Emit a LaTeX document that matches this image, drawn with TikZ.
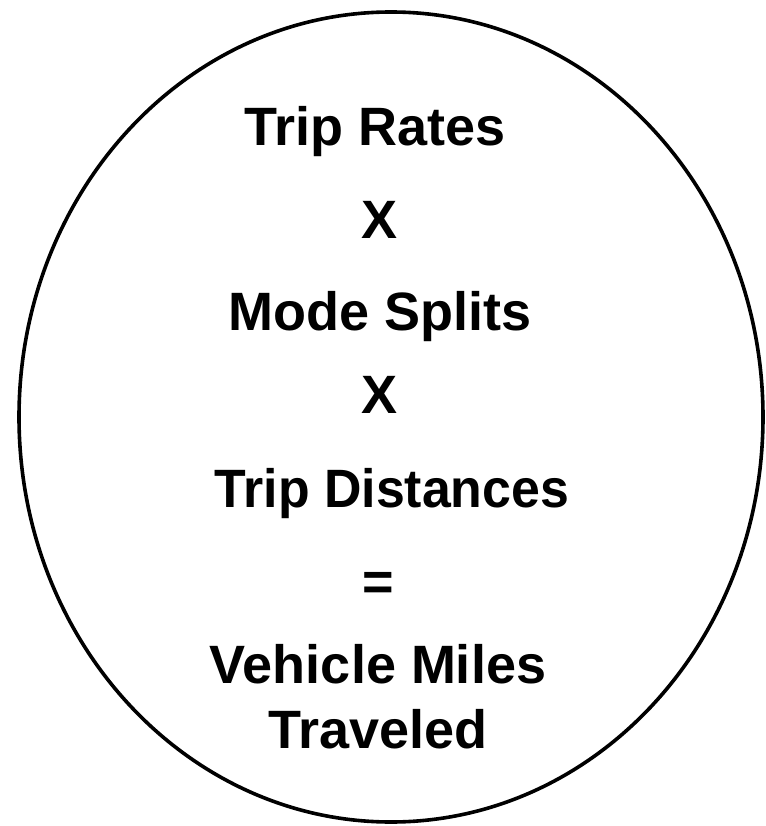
\documentclass[tikz,border=0pt]{standalone}
\usepackage{fontspec}
\setmainfont{Liberation Sans}
\usepackage{tikz}
\usetikzlibrary{positioning}
\definecolor{ink}{HTML}{000000}

\begin{document}
\begin{tikzpicture}[x=1pt, y=-1pt,
    term/.style={font=\fontsize{54}{65}\selectfont\bfseries, text=ink, anchor=base, inner sep=0pt}]
  \useasboundingbox (0,0) rectangle (765,826);
  \draw[ink, line width=3.6pt] (391,417) ellipse [x radius=372, y radius=405];
  \node[term] (rates) at (375,146) {Trip Rates};
  \node[term] (times1) at (380,238) {X};
  \node[term] (modes) at (380,330) {Mode Splits};
  \node[term] (times2) at (380,413) {X};
  \node[term, xscale=0.96] (dist) at (392,507) {Trip Distances};
  \node[term] (equals) at (378,600) {=};
  \node[term] (vmt1) at (378,683) {Vehicle Miles};
  \node[term] (vmt2) at (378,748) {Traveled};
\end{tikzpicture}
\end{document}
